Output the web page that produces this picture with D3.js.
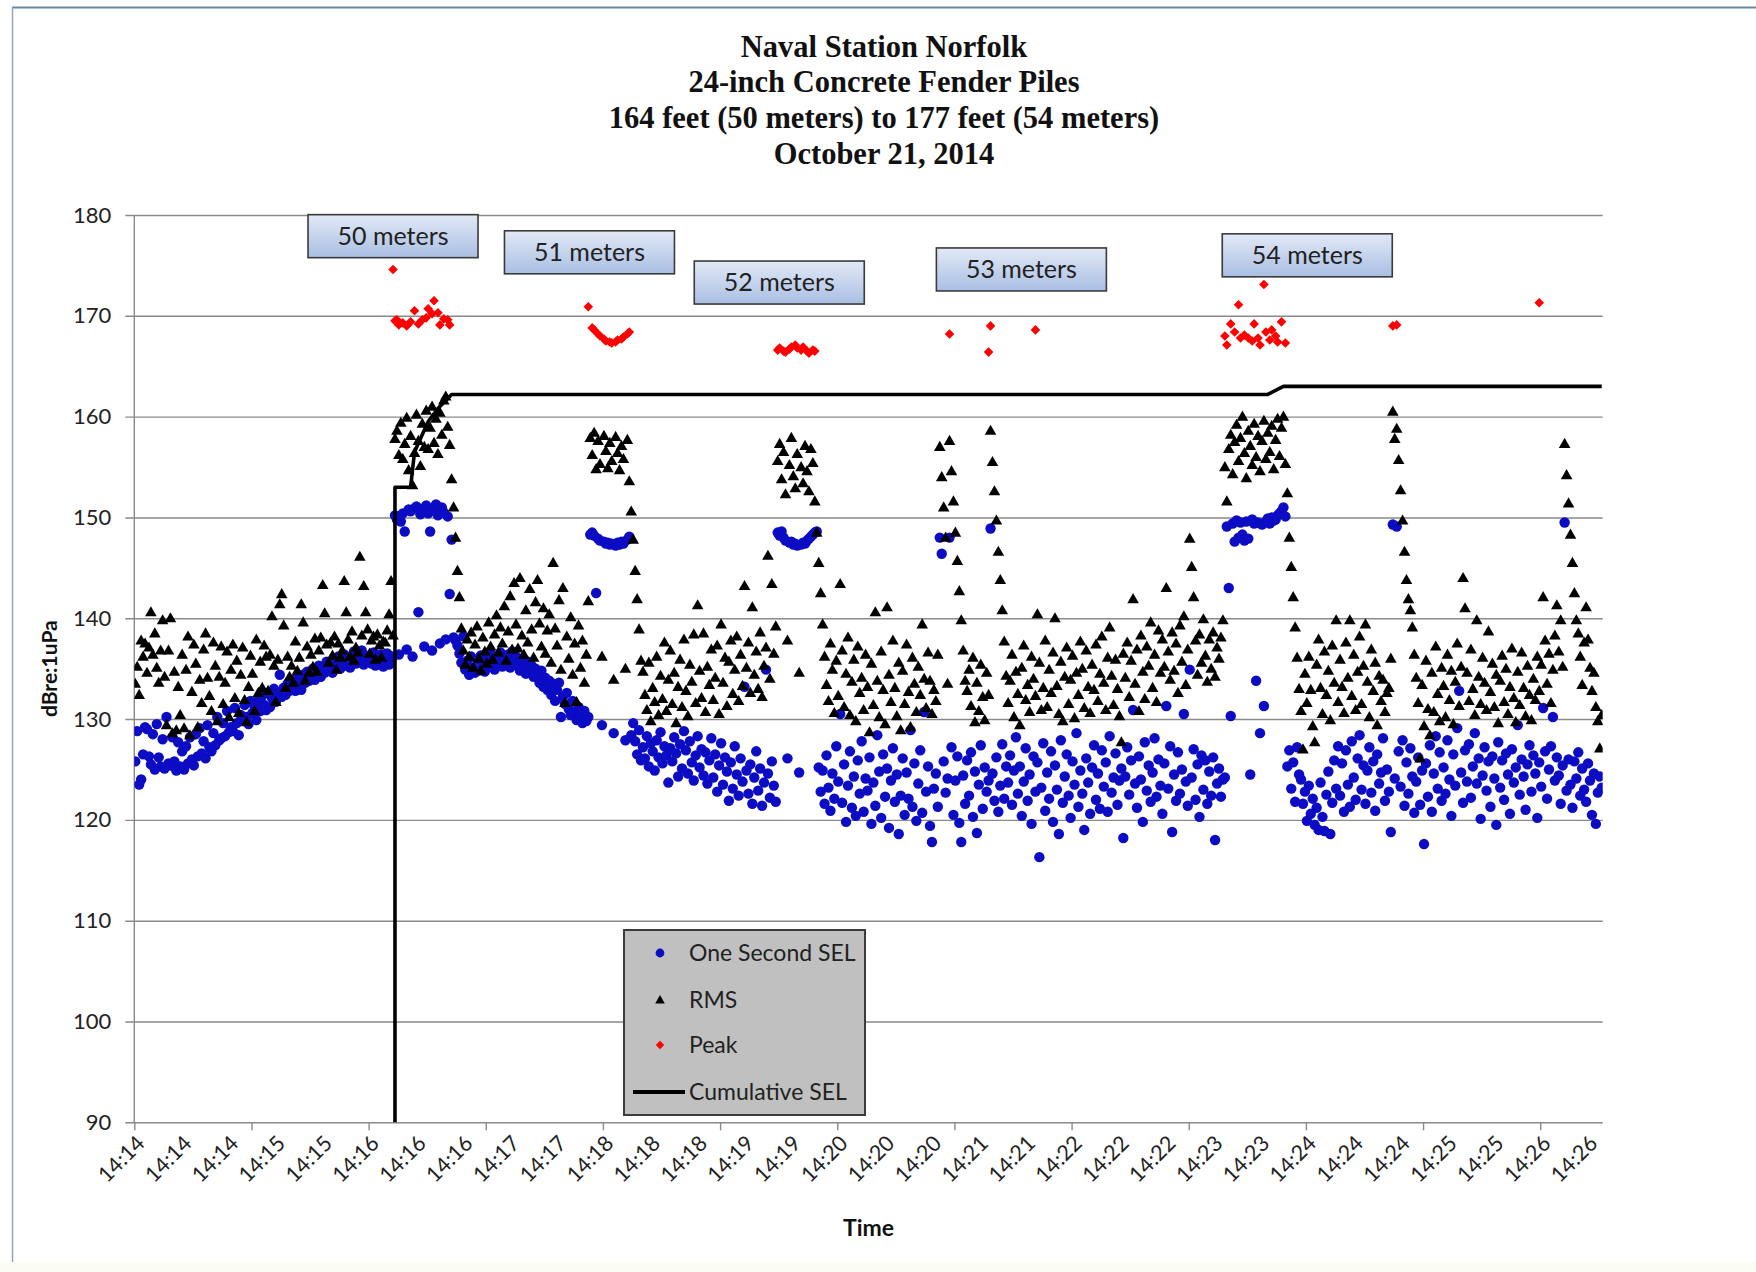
<!DOCTYPE html>
<html><head><meta charset="utf-8">
<script src="https://cdn.jsdelivr.net/npm/d3@7"></script>
<style>body{margin:0;background:#fff} svg{display:block}</style>
</head><body><svg id="chart" width="1756" height="1272"></svg>
<script>
// ---------------- DATA ----------------
const titleLines = ["Naval Station Norfolk","24-inch Concrete Fender Piles","164 feet (50 meters) to 177 feet (54 meters)","October 21, 2014"];
const yTicks = [90,100,110,120,130,140,150,160,170,180];
const xTickLabels = ["14:14","14:14","14:14","14:15","14:15","14:16","14:16","14:16","14:17","14:17","14:18","14:18","14:18","14:19","14:19","14:20","14:20","14:20","14:21","14:21","14:22","14:22","14:22","14:23","14:23","14:24","14:24","14:24","14:25","14:25","14:26","14:26"];
const seriesNames = ["One Second SEL","RMS","Peak","Cumulative SEL"];

// One Second SEL, one value per second (category index 0..751)
const sel = [
125.8,128.8,123.5,124.0,126.5,129.2,129.0,126.3,125.5,128.5,125.0,129.5,126.2,125.3,128.0,125.1,130.2,125.6,125.4,128.2,
125.8,124.9,127.7,125.3,126.8,125.0,127.3,125.6,128.2,126.0,125.4,128.5,126.3,129.1,126.6,127.8,126.1,129.4,127.2,126.8,
128.6,127.4,130.2,127.9,128.1,129.6,128.3,130.8,128.7,129.2,128.8,131.1,129.6,128.4,130.4,129.9,131.4,130.2,129.5,131.8,
130.6,131.3,129.9,131.8,130.8,132.3,131.4,130.9,132.6,131.2,132.1,133.0,131.7,132.5,134.4,132.2,133.1,132.4,133.5,132.8,
133.1,133.9,132.8,134.1,133.4,132.9,134.4,133.6,134.7,133.8,134.2,135.0,133.9,134.6,135.3,134.2,135.1,134.6,135.7,134.9,
135.4,134.6,135.9,135.2,136.2,135.0,135.8,136.4,135.3,136.0,135.1,136.1,136.7,135.5,136.4,135.6,136.8,135.4,136.2,135.7,
136.3,135.5,136.6,135.3,136.0,135.8,136.4,135.2,135.9,136.5,135.4,135.6,136.2,
150.2,149.8,136.4,149.6,150.4,148.6,136.9,150.8,150.6,136.2,150.9,151.1,140.6,150.3,150.8,137.2,151.2,150.4,148.6,136.8,150.9,151.3,150.2,137.5,151.0,150.5,137.9,150.1,142.4,147.8,138.1,137.8,137.3,
136.5,135.6,138.2,134.9,135.8,134.4,136.2,135.1,134.6,135.9,134.8,136.3,135.4,134.7,136.0,135.3,136.5,135.7,134.9,136.1,
135.5,136.6,135.2,136.0,135.8,136.4,135.1,136.7,135.6,136.2,135.4,134.8,136.0,135.2,134.5,135.7,134.9,135.3,134.2,135.0,
134.4,133.6,134.8,133.2,134.1,132.9,133.8,132.4,133.5,131.8,132.9,133.6,130.2,132.2,131.5,132.6,131.0,130.4,131.8,130.7,
129.9,131.2,130.4,129.6,130.8,129.8,130.2,
148.3,148.5,148.2,142.5,147.9,147.7,129.4,147.6,147.4,147.5,147.3,147.4,128.6,147.2,147.5,147.3,147.6,147.4,127.9,147.8,148.1,
128.4,129.6,127.8,126.5,128.9,125.9,127.2,126.1,128.3,125.3,127.6,126.8,124.9,127.9,126.2,128.7,125.6,127.3,126.4,123.7,
127.1,125.8,128.2,126.6,124.3,127.5,125.1,128.8,126.9,124.6,127.8,125.7,123.9,126.4,128.3,125.2,127.0,124.4,126.7,123.6,
125.9,128.1,124.2,126.5,122.8,125.4,127.6,123.5,126.2,124.8,121.9,125.7,123.1,127.3,124.5,122.4,126.1,123.8,133.2,124.9,
122.6,125.5,121.6,124.2,126.8,122.9,125.1,121.4,123.7,134.9,124.6,122.2,125.8,123.4,121.8,
148.5,148.2,148.6,148.0,147.7,126.1,147.5,147.6,147.3,147.4,147.2,124.7,147.3,147.5,147.4,147.7,147.9,148.1,148.3,148.5,148.6,
125.2,122.8,124.9,121.6,126.4,123.2,120.9,124.6,122.1,127.3,123.8,130.5,121.7,125.5,119.8,123.4,126.8,121.2,124.3,120.4,
125.9,122.6,127.8,120.8,124.1,122.9,126.2,119.6,123.7,121.4,128.4,124.8,120.2,126.5,122.3,125.1,119.2,123.9,127.1,121.8,
124.5,118.6,122.4,126.1,120.5,124.7,122.1,128.9,121.3,125.6,119.9,123.6,126.9,120.7,130.7,122.8,125.3,119.4,117.8,123.1,
124.6,121.3,148.0,146.4,125.8,122.7,124.1,148.0,127.2,120.5,123.9,126.3,119.7,117.8,124.4,121.6,125.9,
122.4,126.7,120.3,124.8,118.7,123.5,127.4,121.1,125.2,122.8,
123.9,148.9,124.6,121.9,126.2,120.8,123.4,127.5,122.1,125.3,
123.7,126.4,121.5,124.9,128.2,122.6,125.3,120.4,123.8,127.1,121.9,124.5,119.6,126.3,122.8,125.7,116.3,123.2,127.6,120.9,
124.7,122.1,126.8,119.8,125.4,123.0,118.6,127.9,121.7,124.3,126.5,122.4,120.2,125.8,123.5,128.6,121.3,124.9,122.6,119.0,
126.1,123.7,120.6,125.2,127.4,122.0,124.6,121.1,126.9,123.3,125.7,120.8,128.3,122.7,124.2,126.6,121.5,123.9,125.1,118.2,
124.3,127.2,122.5,125.9,130.9,123.6,121.2,126.3,124.0,119.8,127.7,122.9,125.4,121.8,124.7,128.1,122.3,126.0,123.4,120.6,
125.6,131.3,123.1,127.3,118.8,124.5,121.9,126.7,122.6,125.0,130.5,123.8,121.4,134.9,124.2,127.0,122.0,125.5,120.3,126.4,
123.0,125.9,121.6,124.8,122.4,126.2,118.0,123.6,125.1,122.3,124.0,
124.2,149.1,143.0,130.3,149.4,147.6,149.7,148.0,149.5,148.3,147.7,149.6,147.9,124.5,149.8,149.4,133.8,149.5,128.6,149.3,131.3,149.6,149.9,149.4,150.0,149.7,149.8,150.2,150.4,150.6,151.0,150.1,125.3,
126.9,123.1,125.7,121.8,127.2,
124.5,124.0,121.6,122.8,119.9,123.4,120.6,122.1,119.5,121.2,119.0,123.7,120.3,118.9,122.5,124.8,118.6,121.7,125.9,123.1,
127.3,122.4,125.6,120.8,126.9,123.5,121.3,127.8,124.2,122.0,126.1,128.4,123.0,125.4,121.6,124.9,127.2,122.7,125.8,120.9,126.5,123.6,124.7,128.1,121.9,125.0,
122.8,118.8,149.3,124.1,149.1,126.8,123.3,127.9,121.4,125.7,122.6,127.1,124.3,120.7,
123.8,126.2,121.5,124.9,117.6,125.6,122.3,127.4,120.8,124.6,128.3,123.1,126.7,121.9,125.2,122.6,127.9,124.0,120.4,126.5,
123.4,129.1,132.8,124.7,121.7,126.9,123.8,127.5,122.2,125.3,128.6,123.6,126.1,120.1,124.4,127.2,122.9,125.8,121.3,126.3,
124.1,119.5,127.7,123.2,125.9,122.0,126.6,124.5,120.6,127.0,123.7,125.2,129.4,122.5,126.0,124.3,121.0,125.5,127.4,122.8,
126.4,124.6,120.2,125.7,123.3,131.1,126.8,122.1,125.0,127.3,130.2,123.9,126.2,124.4,121.6,125.4,
149.5,122.9,126.0,123.5,121.2,125.8,124.1,126.7,122.4,125.1,123.0,121.8,125.6,123.9,120.5,124.6,119.6,122.7,124.3,123.2
];

// RMS, one value per second (category index 0..751)
const rms = [
133.5,135.2,132.4,137.8,136.2,137.5,134.6,137.1,140.6,136.4,138.5,135.1,133.6,136.8,139.8,134.2,129.4,136.8,140.0,128.6,
134.7,128.9,133.2,130.4,136.4,129.1,134.9,138.2,128.4,132.7,137.4,135.5,129.2,133.9,131.6,136.9,138.5,134.1,132.3,130.8,
137.6,135.3,129.8,134.2,137.2,131.5,133.6,136.7,130.2,134.9,137.4,132.1,135.8,130.6,134.4,137.1,131.9,129.7,133.2,136.3,
134.5,130.8,137.9,132.6,135.7,133.1,137.3,136.2,132.8,136.4,140.2,135.3,131.7,135.9,141.4,142.4,139.3,133.1,136.2,134.2,
135.3,133.6,137.7,134.8,136.1,141.4,139.6,133.8,137.2,134.6,136.4,135.2,138.0,134.7,136.8,138.1,143.3,140.5,137.4,135.6,
137.6,136.3,138.2,134.9,137.5,136.1,136.8,143.7,140.6,137.9,136.2,138.7,135.8,137.1,136.6,146.1,138.3,143.2,140.6,138.9,
136.5,137.8,138.2,135.9,138.4,137.3,136.1,137.7,137.6,138.8,140.4,143.7,138.3,
157.8,158.6,156.2,159.4,155.8,157.3,159.9,154.7,158.1,153.2,156.4,160.2,157.6,155.1,159.3,157.0,160.6,156.8,158.9,161.0,157.4,159.8,156.3,160.4,158.2,161.6,162.0,159.0,157.2,153.8,151.0,148.0,144.7,
142.1,139.0,136.8,135.4,137.9,136.2,138.6,135.1,137.4,139.2,136.0,134.8,138.1,136.7,135.5,139.6,137.2,135.9,138.4,140.3,
136.6,139.1,137.5,141.2,135.8,138.7,142.2,136.9,143.5,139.4,137.0,144.0,138.3,136.4,140.8,137.6,142.9,138.9,136.1,141.6,
143.8,139.5,137.2,141.0,136.5,138.8,140.4,135.6,145.5,139.0,137.3,141.8,134.9,143.0,131.6,138.2,136.0,140.1,134.4,137.5,
131.7,139.3,135.1,137.8,133.6,136.4,141.7,
157.9,156.2,158.4,154.8,157.6,155.3,136.2,158.1,156.6,154.9,157.4,155.6,133.9,158.0,156.4,154.7,157.1,155.8,135.0,157.7,153.6,
150.6,147.8,144.7,141.9,138.9,135.8,
134.7,132.4,130.9,135.6,129.8,133.1,131.7,136.2,130.4,134.3,132.0,137.6,130.8,133.9,136.8,131.5,134.6,129.6,133.2,135.9,
131.2,137.9,132.8,130.3,135.4,133.7,138.4,131.6,141.3,134.8,132.1,138.5,130.7,135.2,133.4,136.9,131.9,134.1,137.3,130.5,
139.4,133.6,136.1,131.3,135.7,137.8,132.5,134.9,138.2,131.8,136.4,133.3,143.2,135.1,137.6,132.6,141.1,134.4,136.7,133.0,
138.6,132.2,135.3,137.1,146.2,134.0,143.4,136.5,139.2,
155.6,157.3,153.8,156.5,152.3,137.8,155.2,157.9,154.1,152.9,156.3,134.6,155.0,153.4,157.1,154.6,152.6,156.8,155.4,151.6,148.5,
145.5,142.5,139.4,
136.2,133.4,131.8,137.5,134.9,130.6,135.8,132.3,143.4,136.8,131.2,134.5,138.1,130.4,133.7,135.9,129.8,137.2,132.6,134.1,
130.9,136.4,133.2,128.7,135.5,131.4,140.6,133.8,130.2,136.7,132.9,129.5,141.1,134.4,131.7,137.8,133.1,130.3,135.6,128.9,
134.8,131.5,137.4,132.7,129.2,136.1,133.5,130.7,135.2,132.4,139.4,134.0,131.1,136.6,133.8,130.5,132.9,
131.8,136.4,157.0,154.0,151.0,148.0,133.5,157.6,154.6,151.6,148.5,145.7,142.7,139.8,136.8,133.8,132.8,
134.9,131.3,136.1,129.7,133.6,130.8,135.4,132.2,129.9,134.6,
132.4,158.6,155.5,152.6,149.7,146.6,143.8,140.8,137.7,134.3,
131.6,133.8,136.4,130.2,134.7,132.5,129.4,135.1,137.3,131.9,133.4,130.7,136.2,134.0,132.3,140.4,135.6,130.9,133.1,137.8,
131.2,134.9,132.6,136.6,140.0,133.3,130.5,135.7,129.8,134.2,137.1,131.5,133.9,136.3,130.1,134.6,132.4,137.7,135.0,131.1,
136.8,133.2,130.6,135.4,132.9,137.4,131.8,134.5,138.2,133.6,130.9,136.1,139.1,134.3,131.4,135.9,133.0,130.3,127.7,136.5,
134.1,137.6,132.2,135.8,141.9,133.5,136.9,130.8,138.3,134.7,132.0,137.2,135.3,139.6,133.1,136.4,131.7,138.8,134.6,137.9,
135.2,143.0,136.7,133.9,138.6,134.8,137.5,132.6,139.3,135.7,140.2,133.4,136.9,147.9,145.1,142.1,137.8,134.4,138.4,135.6,
139.9,136.3,133.7,137.9,135.0,138.6,134.2,137.1,136.0,138.1,139.8,
155.0,151.6,156.8,158.2,154.3,157.5,159.2,155.6,157.9,160.0,156.4,153.9,158.6,157.1,155.2,159.3,156.0,158.1,154.6,157.6,159.6,155.8,158.4,156.5,159.1,154.8,157.7,159.8,156.1,158.9,160.0,155.3,152.4,
148.0,145.1,142.1,139.1,136.1,133.0,
130.8,127.0,134.5,131.6,136.2,132.9,129.3,127.7,135.4,137.9,133.1,130.5,136.7,132.4,134.8,129.9,137.3,133.6,139.8,131.7,
135.9,133.2,130.6,137.6,134.1,139.8,132.3,136.4,130.9,134.7,138.2,131.5,135.3,139.4,133.7,130.2,136.9,132.8,135.6,129.4,134.3,131.8,133.9,130.7,132.6,
133.1,136.0,160.5,157.8,158.8,155.7,152.7,149.7,146.6,143.8,141.9,140.8,139.1,136.4,
134.1,131.6,126.1,133.4,129.3,135.8,131.0,128.4,134.6,130.7,137.2,132.5,129.8,135.1,133.3,130.2,136.4,131.9,134.8,129.5,
133.7,137.5,131.3,135.2,144.0,141.0,134.6,131.8,136.9,133.0,130.4,139.8,134.2,131.5,136.1,133.6,130.9,138.7,132.7,135.5,
131.2,134.4,129.6,133.8,136.3,131.7,135.0,130.5,133.2,137.0,132.1,129.7,134.7,131.4,136.6,133.1,130.3,135.3,132.4,129.9,
134.0,131.9,136.2,132.8,135.4,142.1,137.8,133.5,136.5,131.6,134.9,138.3,141.3,136.7,139.8,135.2,
157.3,154.2,151.4,148.3,145.5,142.5,139.8,138.5,136.2,133.4,137.6,141.1,137.9,135.1,132.8,134.6,131.2,129.8,127.1,130.4
];

// Peak (only on strikes): second index and value
const peakTimes = [132,133,134,135,137,139,141,143,145,147,149,150,152,153,155,156,158,160,161,
  232,234,235,237,238,240,241,243,244,246,247,249,250,252,253,
  329,330,332,333,335,336,338,339,341,342,344,345,347,348,
  417,437,438,461,
  558,559,561,563,565,566,568,570,572,573,575,576,578,579,581,582,584,585,587,589,
  644,646,719];
const peakValues = [174.6,169.5,169.6,169.1,169.3,169.0,169.4,170.5,169.2,169.6,169.8,170.7,170.2,171.5,170.3,169.1,169.7,169.6,169.1,
  170.9,168.8,168.6,168.2,168.0,167.7,167.5,167.4,167.3,167.4,167.6,167.7,167.9,168.2,168.4,
  166.6,166.8,166.5,166.4,166.7,166.9,167.1,166.8,166.6,166.9,166.5,166.3,166.6,166.5,
  168.2,166.4,169.0,168.6,
  168.0,167.1,169.2,168.4,171.1,167.8,168.1,167.8,167.5,169.2,167.8,167.1,173.1,168.4,167.6,168.6,168.0,167.4,169.4,167.3,
  169.0,169.1,171.3];

// Cumulative SEL (step line)
const cumTimes  = [133, 133,  141,  143,  146,  150,  155,  160,  162,  580,  588,  751];
const cumValues = [ 80, 153, 153, 156.5, 157.8, 159.5, 160.8, 161.8, 162.2, 162.2, 163.0, 163.0];

// Depth annotations (anchored in data units: second index, dB)
const annotationLabels = ["50 meters","51 meters","52 meters","53 meters","54 meters"];
const annotationTimes  = [132, 232.6, 329.8, 453.8, 600.2];
const annotationValues = [177.9, 176.3, 173.3, 174.6, 176.0];

// ---------------- CHART ----------------
const svg = d3.select("#chart");
const W = 1756, H = 1272;
const plot = {left:134.3, right:1602.7, top:215, bottom:1122.3};
const nCat = sel.length; // 752 one-second categories
const x = d3.scaleLinear().domain([0, nCat]).range([plot.left, plot.right]);
const xc = i => x(i + 0.5);
const y = d3.scaleLinear().domain([90, 180]).range([plot.bottom, plot.top]);
const sansFont = "Lato, 'Open Sans', sans-serif";
const gridColor = "#8a8a8a";

svg.append("rect").attr("width", W).attr("height", H).attr("fill", "#ffffff");
// frame of the original picture
svg.append("rect").attr("x", 0).attr("y", 1262).attr("width", W).attr("height", 10).attr("fill", "#fbfcf3");
svg.append("line").attr("x1", 12).attr("x2", W).attr("y1", 7.5).attr("y2", 7.5).attr("stroke", "#6d849b").attr("stroke-width", 2);
svg.append("line").attr("x1", 12.5).attr("x2", 12.5).attr("y1", 7).attr("y2", 1262).attr("stroke", "#8ea7be").attr("stroke-width", 1.5);

// title
svg.append("g").selectAll("text").data(titleLines).join("text")
  .attr("x", 884).attr("y", (d, i) => 46 + i * 35.8).attr("dy", "0.35em")
  .attr("text-anchor", "middle")
  .style("font-family", "'Liberation Serif', 'Times New Roman', serif")
  .style("font-weight", "bold").style("font-size", "30.5px").attr("fill", "#111")
  .text(d => d);

// y axis with gridlines
const yAxis = d3.axisLeft(y).tickValues(yTicks).tickSize(-(plot.right - plot.left + 9)).tickPadding(14);
const gy = svg.append("g").attr("transform", `translate(${plot.left - 9},0)`).call(yAxis);
gy.select(".domain").remove();
gy.selectAll(".tick line").attr("stroke", gridColor).attr("stroke-width", 1.4);
gy.selectAll(".tick text").style("font-family", sansFont).style("font-size", "22px").attr("fill", "#222");
svg.append("line").attr("x1", plot.left).attr("x2", plot.left).attr("y1", plot.top).attr("y2", plot.bottom)
  .attr("stroke", gridColor).attr("stroke-width", 1.4);

// x axis: tick marks every 60 categories, labels every 24 categories
const xTickAxis = d3.axisBottom(x).tickValues(d3.range(0, nCat, 60)).tickSize(8).tickFormat("");
const gxt = svg.append("g").attr("transform", `translate(0,${plot.bottom})`).call(xTickAxis);
gxt.select(".domain").remove();
gxt.selectAll(".tick line").attr("stroke", gridColor).attr("stroke-width", 1.4);

const xLabelAxis = d3.axisBottom(x).tickValues(xTickLabels.map((d, k) => 24 * k + 0.5)).tickSize(0)
  .tickFormat((d, i) => xTickLabels[i]);
const gxl = svg.append("g").attr("transform", `translate(0,${plot.bottom})`).call(xLabelAxis);
gxl.select(".domain").remove();
gxl.selectAll(".tick text")
  .attr("y", 0).attr("dy", "0.35em")
  .attr("transform", "translate(5,17) rotate(-45)")
  .style("text-anchor", "end")
  .style("font-family", sansFont).style("font-size", "21.5px").attr("fill", "#222");

// axis titles
svg.append("text").attr("transform", `translate(50,${(plot.top + plot.bottom) / 2}) rotate(-90)`)
  .attr("text-anchor", "middle").attr("dy", "0.35em")
  .style("font-family", sansFont).style("font-weight", "bold").style("font-size", "21px").attr("fill", "#111")
  .text("dBre:1uPa");
svg.append("text").attr("x", (plot.left + plot.right) / 2).attr("y", 1228).attr("dy", "0.35em")
  .attr("text-anchor", "middle")
  .style("font-family", sansFont).style("font-weight", "bold").style("font-size", "23px").attr("fill", "#111")
  .text("Time");

// clip for data
svg.append("defs").append("clipPath").attr("id", "plotclip").append("rect")
  .attr("x", plot.left).attr("y", plot.top - 20).attr("width", plot.right - plot.left).attr("height", plot.bottom - plot.top + 20);

const marks = svg.append("g").attr("clip-path", "url(#plotclip)");
const circlePath = "M5.2,0A5.2,5.2 0 1,1 -5.2,0A5.2,5.2 0 1,1 5.2,0Z";
const triPath = "M0,-6L5.8,4.1L-5.8,4.1Z";
const diamondPath = "M0,-4.8L4.8,0L0,4.8L-4.8,0Z";
const blue = "#0c0cc4", red = "#ff0000";

// One Second SEL
marks.append("g").selectAll("path").data(sel.map((v, i) => [i, v]).filter(d => d[1] != null)).join("path")
  .attr("transform", d => `translate(${xc(d[0])},${y(d[1])})`).attr("d", circlePath).attr("fill", blue);
// RMS
marks.append("g").selectAll("path").data(rms.map((v, i) => [i, v]).filter(d => d[1] != null)).join("path")
  .attr("transform", d => `translate(${xc(d[0])},${y(d[1])})`).attr("d", triPath).attr("fill", "#000");
// Peak
marks.append("g").selectAll("path").data(peakTimes.map((t, i) => [t, peakValues[i]])).join("path")
  .attr("transform", d => `translate(${xc(d[0])},${y(d[1])})`).attr("d", diamondPath).attr("fill", red);
// Cumulative SEL
svg.select("defs").append("clipPath").attr("id", "lineclip").append("rect")
  .attr("x", plot.left).attr("y", plot.top).attr("width", plot.right - plot.left).attr("height", plot.bottom - plot.top);
svg.append("path").attr("clip-path", "url(#lineclip)")
  .datum(cumTimes.map((t, i) => [t, cumValues[i]]))
  .attr("d", d3.line().x(d => xc(d[0])).y(d => y(d[1])))
  .attr("fill", "none").attr("stroke", "#000").attr("stroke-width", 3.6).attr("stroke-linejoin", "round");

// depth annotations
const grad = svg.select("defs").append("linearGradient").attr("id", "boxgrad").attr("x1", 0).attr("x2", 0).attr("y1", 0).attr("y2", 1);
grad.append("stop").attr("offset", "0%").attr("stop-color", "#e2e9f6");
grad.append("stop").attr("offset", "100%").attr("stop-color", "#a9bfe3");
const ann = svg.append("g").selectAll("g").data(annotationLabels).join("g")
  .attr("transform", (d, i) => `translate(${xc(annotationTimes[i])},${y(annotationValues[i])})`);
ann.append("rect").attr("x", -85).attr("y", -21.5).attr("width", 170).attr("height", 43)
  .attr("fill", "url(#boxgrad)").attr("stroke", "#3a3a3a").attr("stroke-width", 1.6);
ann.append("text").attr("text-anchor", "middle").attr("dy", "0.35em")
  .style("font-family", sansFont).style("font-size", "25px").attr("fill", "#222").text(d => d);

// legend
const lg = svg.append("g").attr("transform", "translate(624,930)");
lg.append("rect").attr("width", 241).attr("height", 185).attr("fill", "#c0c0c0").attr("stroke", "#3c3c3c").attr("stroke-width", 2);
const rowsY = [23, 70, 115, 162];
const legendItems = lg.selectAll("g").data(seriesNames).join("g").attr("transform", (d, i) => `translate(0,${rowsY[i]})`);
legendItems.append("text").attr("x", 65).attr("dy", "0.35em")
  .style("font-family", sansFont).style("font-size", "23px").attr("fill", "#222").text(d => d);
legendItems.filter((d, i) => i === 0).append("path").attr("transform", "translate(36,0)").attr("d", "M4.4,0A4.4,4.4 0 1,1 -4.4,0A4.4,4.4 0 1,1 4.4,0Z").attr("fill", blue);
legendItems.filter((d, i) => i === 1).append("path").attr("transform", "translate(36,0)").attr("d", "M0,-5L4.8,3.4L-4.8,3.4Z").attr("fill", "#000");
legendItems.filter((d, i) => i === 2).append("path").attr("transform", "translate(36,0)").attr("d", "M0,-4.2L4.2,0L0,4.2L-4.2,0Z").attr("fill", red);
legendItems.filter((d, i) => i === 3).append("line").attr("x1", 9).attr("x2", 61).attr("y1", 0).attr("y2", 0)
  .attr("stroke", "#000").attr("stroke-width", 4);

if (sel.length !== 752 || rms.length !== 752) console.error("length mismatch", sel.length, rms.length);
</script></body></html>
